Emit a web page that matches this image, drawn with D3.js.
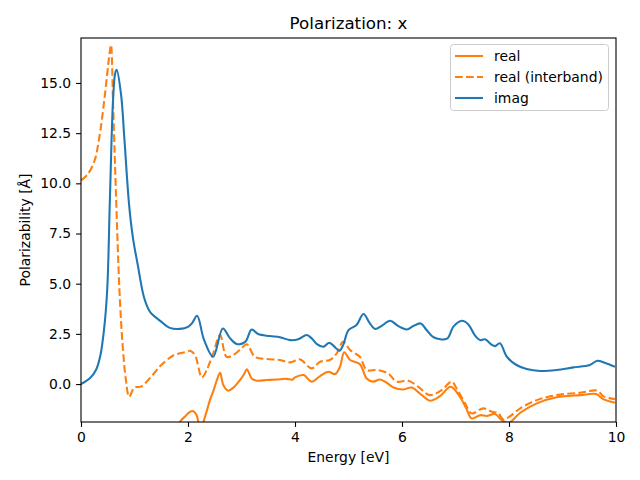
<!DOCTYPE html>
<html><head><meta charset="utf-8">
<script src="https://cdn.jsdelivr.net/npm/d3@7"></script>
<style>body{margin:0;background:#fff}svg{display:block}text{font-family:"DejaVu Sans",sans-serif}</style>
</head><body>
<svg id="c" width="640" height="480"></svg>
<script>
const title = "Polarization: x";
const xLabel = "Energy [eV]";
const yLabel = "Polarizability [Å]";
const xTicks = [0, 2, 4, 6, 8, 10];
const yTicks = [0, 2.5, 5, 7.5, 10, 12.5, 15];
const seriesNames = ["real", "real (interband)", "imag"];

const realE = [1.8,1.85,1.95,2.03,2.1,2.16,2.2,2.25,2.29,2.35,2.41,2.48,2.54,2.6,2.66,2.75,2.85,2.97,3.04,3.1,3.19,3.28,3.47,3.66,3.84,3.95,4.0,4.16,4.31,4.47,4.62,4.75,4.84,4.92,5.03,5.21,5.34,5.46,5.59,5.71,5.84,6.03,6.18,6.37,6.52,6.71,6.91,7.08,7.2,7.3,7.46,7.58,7.74,7.86,7.99,8.21,8.52,8.89,9.33,9.63,9.76,9.98];
const realV = [-2.3,-1.88,-1.6,-1.4,-1.35,-1.54,-1.95,-2.3,-1.88,-1.35,-0.8,-0.3,0.2,0.56,-0.05,-0.33,-0.17,0.2,0.45,0.73,0.28,0.17,0.2,0.23,0.26,0.22,0.33,0.45,0.12,0.4,0.61,0.5,0.86,1.58,1.2,1.0,0.28,0.12,0.23,0.07,-0.17,-0.27,-0.17,-0.55,-0.83,-0.6,-0.13,-0.63,-1.2,-1.71,-1.55,-1.59,-1.49,-1.79,-1.93,-1.43,-0.96,-0.66,-0.55,-0.5,-0.75,-0.93];

const interE = [0,0.12,0.25,0.34,0.44,0.53,0.56,0.6,0.65,0.72,0.78,0.84,0.9,1.0,1.12,1.31,1.5,1.74,1.85,1.99,2.04,2.13,2.26,2.35,2.47,2.6,2.72,2.85,3.0,3.1,3.25,3.47,3.72,3.91,4.09,4.31,4.47,4.65,4.78,4.9,5.03,5.21,5.34,5.53,5.74,5.9,6.12,6.3,6.52,6.74,6.93,7.02,7.18,7.3,7.52,7.68,7.8,7.89,7.99,8.21,8.52,8.89,9.33,9.65,9.76,9.98];
const interV = [10.15,10.43,11.1,12.25,14.25,16.4,16.9,13.9,9.77,4.6,1.86,0.2,-0.63,-0.17,-0.13,0.36,0.95,1.45,1.53,1.62,1.66,1.45,0.33,0.7,1.53,2.44,1.36,1.45,1.78,1.98,1.36,1.25,1.2,1.08,1.23,0.78,1.11,1.2,1.53,2.11,1.69,1.36,0.7,0.7,0.53,0.12,0.17,-0.13,-0.55,-0.3,0.12,-0.22,-0.96,-1.46,-1.21,-1.38,-1.45,-1.76,-1.66,-1.21,-0.8,-0.55,-0.43,-0.33,-0.6,-0.75];

const imagE = [0,0.17,0.28,0.36,0.43,0.49,0.54,0.6,0.64,0.667,0.75,0.81,0.9,0.97,1.06,1.18,1.29,1.48,1.66,1.85,2.0,2.08,2.17,2.3,2.47,2.65,2.78,2.91,3.07,3.19,3.31,3.53,3.72,3.91,4.06,4.22,4.31,4.41,4.53,4.64,4.75,4.83,4.9,5.0,5.15,5.28,5.4,5.5,5.62,5.78,5.93,6.09,6.21,6.35,6.46,6.59,6.84,6.96,7.12,7.24,7.36,7.46,7.55,7.68,7.74,7.83,7.96,8.14,8.33,8.58,8.89,9.2,9.51,9.65,9.79,9.98];
const imagV = [0,0.3,0.7,1.4,2.7,4.7,9.2,14.2,15.5,15.66,14.4,12.25,8.9,7.3,5.95,4.3,3.6,3.15,2.8,2.75,2.85,3.05,3.4,2.2,1.36,2.77,2.3,2.0,2.1,2.72,2.49,2.39,2.33,2.19,2.23,2.44,2.28,1.99,1.86,2.06,1.83,1.66,1.94,2.69,2.94,3.49,3.02,2.74,2.9,3.15,2.89,2.72,2.89,3.02,2.69,2.33,2.26,2.86,3.15,2.97,2.44,2.19,2.23,1.95,1.89,2.03,1.36,0.95,0.75,0.65,0.7,0.83,0.95,1.16,1.06,0.86];

const W = 640, H = 480;
const m = {l: 81, r: 616, t: 38, b: 422};
const svg = d3.select("#c");
const x = d3.scaleLinear().domain([0, 10]).range([m.l, m.r]);
const y = d3.scaleLinear().domain([-1.89, 17.24]).range([m.b, m.t]);

svg.append("defs").append("clipPath").attr("id","clip")
  .append("rect").attr("x", m.l).attr("y", m.t).attr("width", m.r - m.l).attr("height", m.b - m.t);

const line = d3.line().x(d => x(d[0])).y(d => y(d[1])).curve(d3.curveCatmullRom.alpha(0.5));
const g = svg.append("g").attr("clip-path", "url(#clip)");
const zipd = (a, b) => a.map((e, i) => [e, b[i]]);
g.append("path").datum(zipd(realE, realV)).attr("d", line)
  .attr("fill","none").attr("stroke","#ff7f0e").attr("stroke-width",2.08);
g.append("path").datum(zipd(interE, interV)).attr("d", line)
  .attr("fill","none").attr("stroke","#ff7f0e").attr("stroke-width",2.08).attr("stroke-dasharray","7.7,3.3");
g.append("path").datum(zipd(imagE, imagV)).attr("d", line)
  .attr("fill","none").attr("stroke","#1f77b4").attr("stroke-width",2.08);

// axes
const xAxis = svg.append("g").attr("transform", `translate(0,${m.b})`)
  .call(d3.axisBottom(x).tickValues(xTicks).tickFormat(d3.format("d")).tickSize(4.9).tickPadding(4.9));
const yAxis = svg.append("g").attr("transform", `translate(${m.l},0)`)
  .call(d3.axisLeft(y).tickValues(yTicks).tickFormat(d3.format(".1f")).tickSize(4.9).tickPadding(4.9));
[xAxis, yAxis].forEach(a => {
  a.select(".domain").remove();
  a.selectAll("text").attr("font-size", 13.9).attr("fill", "#000").attr("font-family", "DejaVu Sans");
  a.selectAll("line").attr("stroke", "#000").attr("stroke-width", 1.1);
});
svg.append("rect").attr("x", m.l).attr("y", m.t).attr("width", m.r - m.l).attr("height", m.b - m.t)
  .attr("fill", "none").attr("stroke", "#000").attr("stroke-width", 1.1);

svg.append("text").attr("x", (m.l + m.r) / 2).attr("y", 29).attr("text-anchor", "middle")
  .attr("font-size", 16.7).text(title);
svg.append("text").attr("x", (m.l + m.r) / 2).attr("y", 462).attr("text-anchor", "middle")
  .attr("font-size", 13.9).text(xLabel);
svg.append("text").attr("transform", `translate(30,${(m.t + m.b) / 2}) rotate(-90)`)
  .attr("text-anchor", "middle").attr("font-size", 13.9).text(yLabel);

// legend
const lg = svg.append("g");
lg.append("rect").attr("x", 450.5).attr("y", 44.5).attr("width", 158).attr("height", 66).attr("rx", 3)
  .attr("fill", "#fff").attr("fill-opacity", 0.8).attr("stroke", "#ccc").attr("stroke-width", 1);
const styles = [{c:"#ff7f0e", d:null}, {c:"#ff7f0e", d:"7.7,3.3"}, {c:"#1f77b4", d:null}];
seriesNames.forEach((n, i) => {
  const yy = 56 + i * 21;
  const l = lg.append("line").attr("x1", 455).attr("x2", 483).attr("y1", yy).attr("y2", yy)
    .attr("stroke", styles[i].c).attr("stroke-width", 2.08);
  if (styles[i].d) l.attr("stroke-dasharray", styles[i].d);
  lg.append("text").attr("x", 494).attr("y", yy + 5).attr("font-size", 13.9).text(n);
});
</script>
</body></html>
